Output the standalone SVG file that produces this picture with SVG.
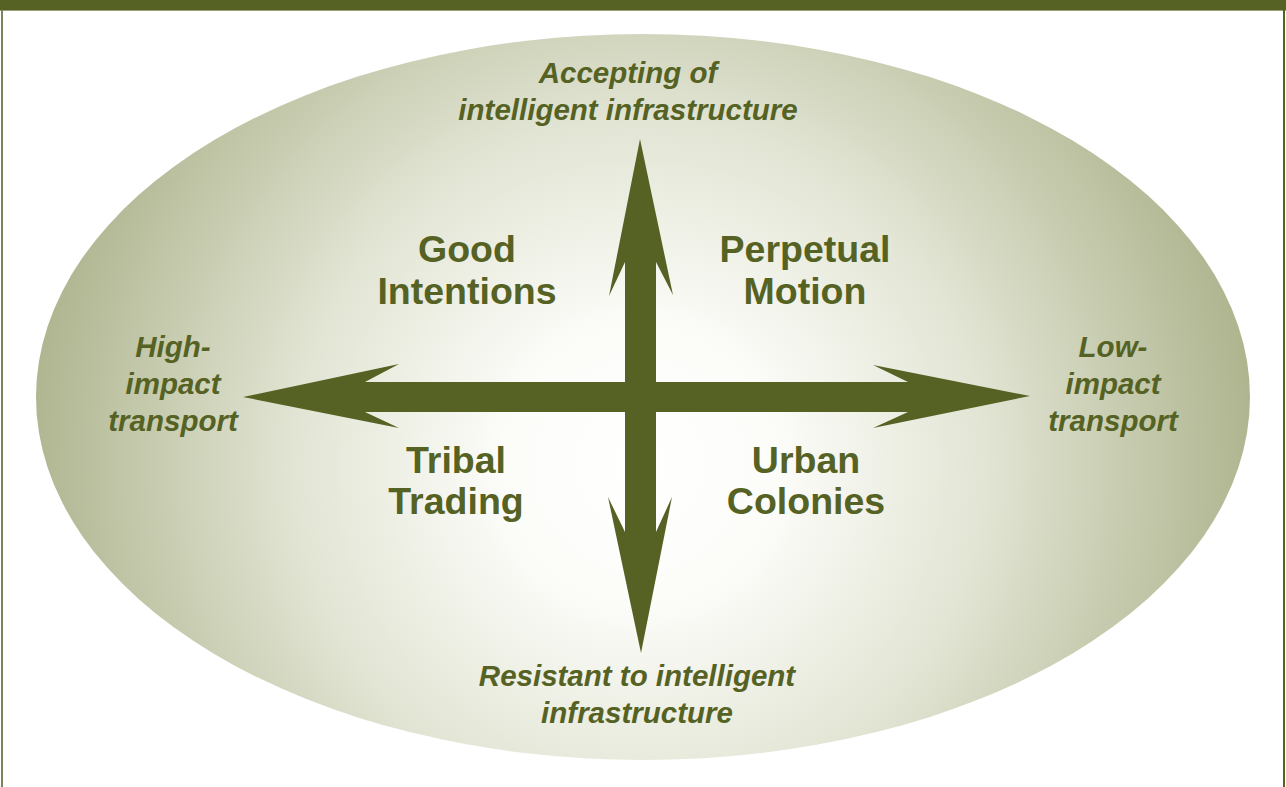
<svg xmlns="http://www.w3.org/2000/svg" width="1286" height="787" viewBox="0 0 1286 787">
  <style>
    .axis { font-family: "Liberation Sans", Arial, sans-serif; font-weight: bold; font-style: italic; font-size: 29.5px; fill: #556223; text-anchor: middle; }
    .quad { font-family: "Liberation Sans", Arial, sans-serif; font-weight: bold; font-size: 37.5px; fill: #556223; text-anchor: middle; }
    .arrow { fill: #556223; }
  </style>
  <defs>
    <radialGradient id="bg" gradientUnits="userSpaceOnUse" cx="640" cy="465" r="625">
      <stop offset="0" stop-color="#ffffff"/>
      <stop offset="0.22" stop-color="#fcfcf9"/>
      <stop offset="0.55" stop-color="#e2e5d4"/>
      <stop offset="1" stop-color="#acb38c"/>
    </radialGradient>
  </defs>
  <rect x="0" y="0" width="1286" height="787" fill="#ffffff"/>
  <rect x="0" y="0" width="1286" height="10" fill="#556223"/>
  <rect x="0" y="10" width="1286" height="1" fill="#9aa078"/>
  <rect x="1" y="10" width="2" height="777" fill="#7d8456"/>
  <rect x="1283" y="10" width="2" height="777" fill="#556223"/>

  <g id="background">
    <ellipse cx="643" cy="397" rx="607" ry="363" fill="url(#bg)"/>
  </g>

  <g id="connectors">
    <polygon class="arrow" points="640,139 673,295 656,262 656,532 672,497 641,653 608,497 625,532 625,262 609,296"/>
    <polygon class="arrow" points="243,397 399,364 365,382 908,382 873,365 1030,396 873,428 908,412 365,412 399,428"/>
  </g>

  <g id="axis-top">
    <text class="axis" x="628" y="83">Accepting of</text>
    <text class="axis" x="628" y="120">intelligent infrastructure</text>
  </g>
  <g id="axis-bottom">
    <text class="axis" x="637" y="686">Resistant to intelligent</text>
    <text class="axis" x="637" y="723">infrastructure</text>
  </g>
  <g id="axis-left">
    <text class="axis" x="173" y="357">High-</text>
    <text class="axis" x="173" y="394">impact</text>
    <text class="axis" x="173" y="431">transport</text>
  </g>
  <g id="axis-right">
    <text class="axis" x="1113" y="357">Low-</text>
    <text class="axis" x="1113" y="394">impact</text>
    <text class="axis" x="1113" y="431">transport</text>
  </g>

  <g id="good-intentions">
    <text class="quad" x="467" y="262">Good</text>
    <text class="quad" x="467" y="304">Intentions</text>
  </g>
  <g id="perpetual-motion">
    <text class="quad" x="805" y="262">Perpetual</text>
    <text class="quad" x="805" y="304">Motion</text>
  </g>
  <g id="tribal-trading">
    <text class="quad" x="456" y="473">Tribal</text>
    <text class="quad" x="456" y="514">Trading</text>
  </g>
  <g id="urban-colonies">
    <text class="quad" x="806" y="473">Urban</text>
    <text class="quad" x="806" y="514">Colonies</text>
  </g>
</svg>
